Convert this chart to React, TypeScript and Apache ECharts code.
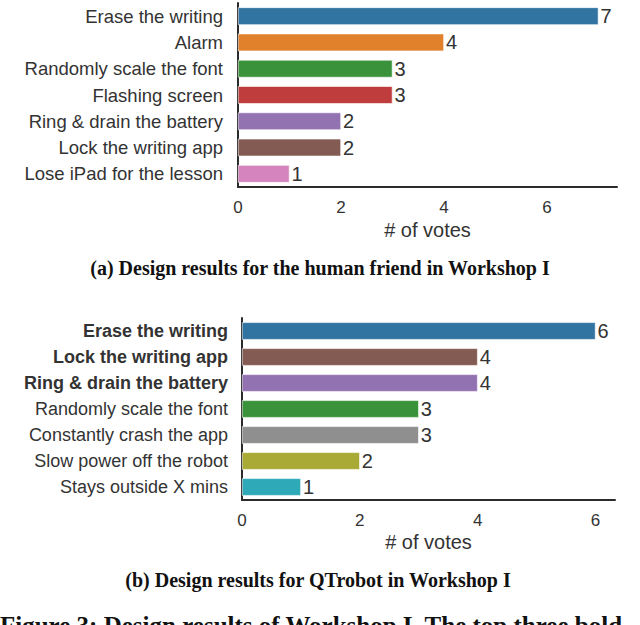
import { useEffect, useRef } from "react";
import * as echarts from "echarts";

const friendIdeas = [
  "Erase the writing",
  "Alarm",
  "Randomly scale the font",
  "Flashing screen",
  "Ring & drain the battery",
  "Lock the writing app",
  "Lose iPad for the lesson"
];
const friendVotes = [7, 4, 3, 3, 2, 2, 1];
const friendColors = ["#3274a1", "#e1812c", "#3a923a", "#c03d3e", "#9372b2", "#845b53", "#d684bd"];

const robotIdeas = [
  "Erase the writing",
  "Lock the writing app",
  "Ring & drain the battery",
  "Randomly scale the font",
  "Constantly crash the app",
  "Slow power off the robot",
  "Stays outside X mins"
];
const robotVotes = [6, 4, 4, 3, 3, 2, 1];
const robotColors = ["#3274a1", "#845b53", "#9372b2", "#3a923a", "#8f8f8f", "#a9aa35", "#2ea9b8"];
const robotTopCount = 3;

const xTicks = [0, 2, 4, 6];

const sans = "'Liberation Sans', Arial, sans-serif";
const serif = "'Liberation Serif', 'DejaVu Serif', serif";
const ink = "#333333";

function barData(values: number[], colors: string[]) {
  return values.map((v, i) => ({ value: v, itemStyle: { color: colors[i] } }));
}

export default function App() {
  const ref = useRef<HTMLDivElement | null>(null);

  useEffect(() => {
    if (!ref.current) {
      return;
    }
    const instance = echarts.init(ref.current, null, { renderer: "svg" });

    const xAxisBase = {
      type: "value",
      min: 0,
      interval: 2,
      splitLine: { show: false },
      axisTick: { show: false },
      axisLine: { show: true, lineStyle: { color: "#2b2b2b", width: 2 } },
      axisLabel: {
        color: ink,
        fontSize: 17,
        fontFamily: sans,
        showMaxLabel: false,
        formatter: (v: number) => (xTicks.includes(v) ? String(v) : "")
      },
      name: "# of votes",
      nameLocation: "middle",
      nameTextStyle: { color: ink, fontSize: 20, fontFamily: sans }
    };

    const yAxisBase = {
      type: "category",
      inverse: true,
      axisTick: { show: false },
      axisLine: { show: true, lineStyle: { color: "#2b2b2b", width: 2 } },
      splitLine: { show: false }
    };

    const valueLabel = {
      show: true,
      position: "right",
      distance: 2,
      color: ink,
      fontSize: 20,
      fontFamily: sans
    };

    instance.setOption({
      animation: false,
      grid: [
        { left: 238, top: 3, width: 379, height: 184 },
        { left: 242, top: 318, width: 373, height: 182 }
      ],
      xAxis: [
        { ...xAxisBase, gridIndex: 0, max: 7.36, nameGap: 33, axisLabel: { ...xAxisBase.axisLabel, margin: 12 } },
        { ...xAxisBase, gridIndex: 1, max: 6.33, nameGap: 32, axisLabel: { ...xAxisBase.axisLabel, margin: 12 } }
      ],
      yAxis: [
        {
          ...yAxisBase,
          gridIndex: 0,
          data: friendIdeas,
          axisLabel: { color: ink, fontSize: 18.5, fontFamily: sans, margin: 15 }
        },
        {
          ...yAxisBase,
          gridIndex: 1,
          data: robotIdeas,
          axisLabel: {
            color: ink,
            fontSize: 18,
            fontFamily: sans,
            margin: 14,
            formatter: (v: string) => (robotIdeas.indexOf(v) < robotTopCount ? `{b|${v}}` : v),
            rich: { b: { fontWeight: "bold", fontSize: 18, fontFamily: sans, color: ink } }
          }
        }
      ],
      series: [
        {
          type: "bar",
          xAxisIndex: 0,
          yAxisIndex: 0,
          barWidth: "67%",
          data: barData(friendVotes, friendColors),
          itemStyle: { borderColor: "#ffffff", borderWidth: 0.6 },
          label: valueLabel
        },
        {
          type: "bar",
          xAxisIndex: 1,
          yAxisIndex: 1,
          barWidth: "67%",
          data: barData(robotVotes, robotColors),
          itemStyle: { borderColor: "#ffffff", borderWidth: 0.6 },
          label: valueLabel
        }
      ],
      graphic: [
        {
          type: "text",
          x: 320,
          y: 268,
          style: {
            text: "(a) Design results for the human friend in Workshop I",
            fill: "#111111",
            font: `bold 20px ${serif}`,
            textAlign: "center",
            textVerticalAlign: "middle"
          }
        },
        {
          type: "text",
          x: 318,
          y: 580,
          style: {
            text: "(b) Design results for QTrobot in Workshop I",
            fill: "#111111",
            font: `bold 20px ${serif}`,
            textAlign: "center",
            textVerticalAlign: "middle"
          }
        },
        {
          type: "text",
          x: 0,
          y: 613,
          style: {
            text: "Figure 3: Design results of Workshop I. The top three bold",
            fill: "#111111",
            font: `bold 25px ${serif}`,
            textAlign: "left",
            textVerticalAlign: "top"
          }
        }
      ]
    });

    return () => {
      instance.dispose();
    };
  }, []);

  return (
    <div
      ref={ref}
      style={{ position: "fixed", left: 0, top: 0, width: 640, height: 625, background: "#ffffff" }}
    />
  );
}
